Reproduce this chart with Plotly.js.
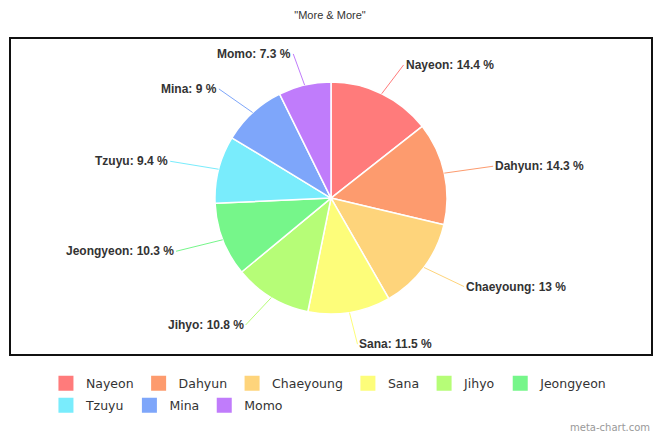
<!DOCTYPE html>
<html>
<head>
<meta charset="utf-8">
<script src="https://cdn.plot.ly/plotly-3.0.1.min.js"></script>
<style>
  html, body { margin: 0; padding: 0; background: #fff; }
  #chart { width: 660px; height: 440px; }
</style>
</head>
<body>
<div id="chart"></div>
<script>
var members = ["Nayeon", "Dahyun", "Chaeyoung", "Sana", "Jihyo", "Jeongyeon", "Tzuyu", "Mina", "Momo"];
var shares = [14.4, 14.3, 13, 11.5, 10.8, 10.3, 9.4, 9, 7.3];
var colors = ["#ff7b7b", "#fd9b6e", "#fed47b", "#fdfd7a", "#b6fd77", "#76f68a", "#79ecfc", "#7ea6fa", "#c07cfb"];
var firstRow = 6; // legend entries in the first row

// plot area in pixels (matches margins below)
var L = 10, T = 38, W = 642, H = 317;
var dom = { x: [0, 1], y: [0.129, 0.861] };
var cx = L + W * (dom.x[0] + dom.x[1]) / 2;
var cy = T + H * (1 - (dom.y[0] + dom.y[1]) / 2);
var r = H * (dom.y[1] - dom.y[0]) / 2;
var gapX = 50, gapY = 32;

var total = shares.reduce(function (a, b) { return a + b; }, 0);
var annotations = [];
var cum = 0;
for (var i = 0; i < shares.length; i++) {
  var mid = (cum + shares[i] / 2) / total * 2 * Math.PI;
  cum += shares[i];
  var s = Math.sin(mid), c = Math.cos(mid);
  var px = cx + r * s, py = cy - r * c;
  annotations.push({
    x: (px - L) / W, y: 1 - (py - T) / H,
    xref: "paper", yref: "paper",
    text: members[i] + ": " + shares[i] + " %",
    showarrow: true, arrowhead: 0, arrowwidth: 1, arrowcolor: colors[i],
    ax: gapX * s, ay: -gapY * c,
    xanchor: s >= 0 ? "left" : "right",
    yanchor: "middle",
    font: { family: "Liberation Sans, Arial, sans-serif", size: 12, color: "#333", weight: "bold" }
  });
}
annotations.push({
  text: "meta-chart.com", xref: "paper", yref: "paper",
  x: 1.0, y: (T + H - 428) / H, xanchor: "right", yanchor: "middle", showarrow: false,
  font: { family: "DejaVu Sans, sans-serif", size: 10, color: "#999" }
});

var data = [{
  type: "pie",
  labels: members,
  values: shares,
  sort: false,
  direction: "clockwise",
  rotation: 0,
  textinfo: "none",
  hoverinfo: "label+percent",
  domain: dom,
  showlegend: false,
  marker: { colors: colors, line: { color: "#fff", width: 1.5 } }
}];

// legend keys, split over two single-row legends
members.forEach(function (m, k) {
  data.push({
    type: "scatter", mode: "markers",
    x: [null], y: [null],
    name: m,
    legend: k < firstRow ? "legend" : "legend2",
    hoverinfo: "skip",
    marker: { symbol: "square", size: 15, color: colors[k] }
  });
});

var legendFont = { family: "DejaVu Sans, sans-serif", size: 12.5, color: "#333" };

var layout = {
  width: 660, height: 440,
  margin: { l: L, r: 660 - L - W, t: T, b: 440 - T - H },
  paper_bgcolor: "#fff",
  plot_bgcolor: "rgba(0,0,0,0)",
  title: {
    text: "\"More & More\"",
    x: 0.5, y: 1 - 15 / 440, yanchor: "middle",
    font: { family: "Liberation Sans, Arial, sans-serif", size: 11, color: "#333" }
  },
  xaxis: { visible: false },
  yaxis: { visible: false },
  showlegend: true,
  legend: {
    orientation: "h", x: 0.056, xanchor: "left",
    y: -0.043, yanchor: "top", font: legendFont, traceorder: "normal",
    bgcolor: "rgba(0,0,0,0)"
  },
  legend2: {
    orientation: "h", x: 0.056, xanchor: "left",
    y: -0.112, yanchor: "top", font: legendFont, traceorder: "normal",
    bgcolor: "rgba(0,0,0,0)"
  },
  shapes: [{
    type: "rect", xref: "paper", yref: "paper",
    x0: 0, x1: 1, y0: 0, y1: 1,
    line: { color: "#111", width: 2 }
  }],
  annotations: annotations
};

Plotly.newPlot("chart", data, layout, { displayModeBar: false, responsive: false });
</script>
</body>
</html>
